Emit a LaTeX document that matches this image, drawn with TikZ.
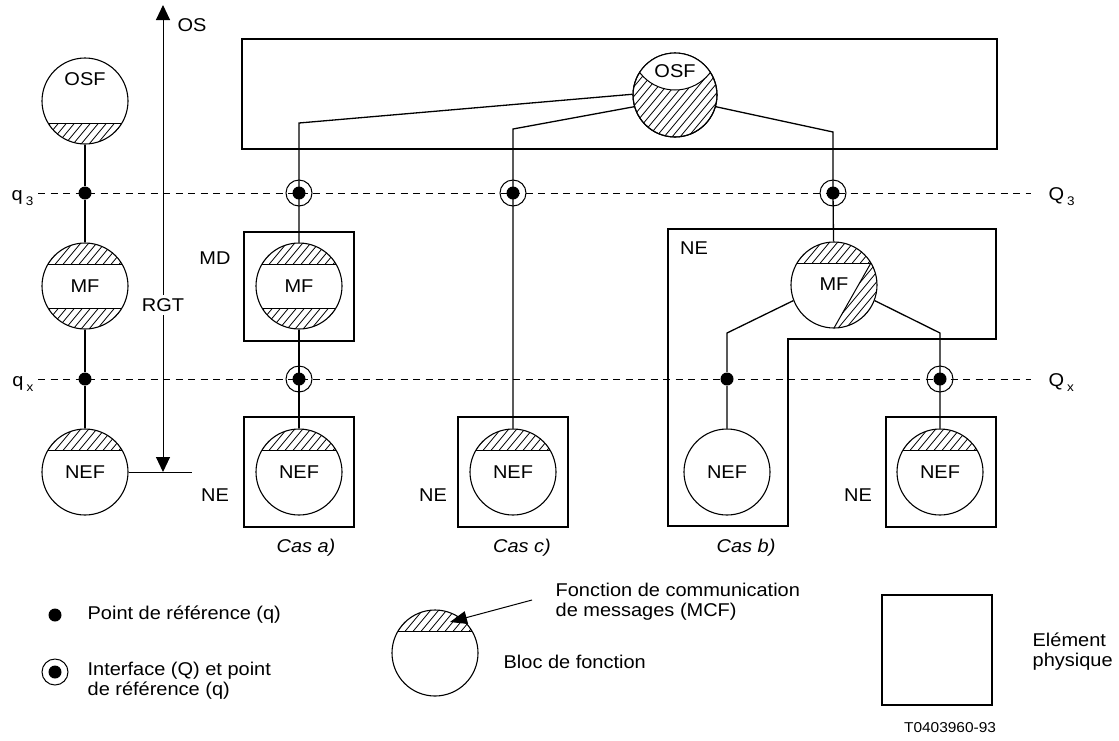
\documentclass[tikz,border=0pt]{standalone}
\usepackage{fontspec}
\setmainfont{Liberation Sans}[FakeStretch=1.08]
\usetikzlibrary{arrows.meta}
\newcommand\lowsub[1]{\kern3pt\raisebox{-0.32em}{\fontsize{12.5}{13}\selectfont #1}}
\newcommand\hatchlines[1]{\foreach \i in {-11,...,11}{\draw[hatchline] ([xshift=\i*8]#1.center) ++(-40,48) -- ++(80,-96);}}
\newcommand\hattop[1]{%
  \begin{scope}\clip (#1.center) circle[radius=43pt];
  \clip ([shift={(-50,-50)}]#1.center) rectangle ([shift={(50,-22)}]#1.center);
  \hatchlines{#1}\end{scope}
  \draw[thinline] ([shift={(-36.9,-22)}]#1.center) -- ([shift={(36.9,-22)}]#1.center);}
\newcommand\hatbot[1]{%
  \begin{scope}\clip (#1.center) circle[radius=43pt];
  \clip ([shift={(-50,22)}]#1.center) rectangle ([shift={(50,50)}]#1.center);
  \hatchlines{#1}\end{scope}
  \draw[thinline] ([shift={(-36.9,22)}]#1.center) -- ([shift={(36.9,22)}]#1.center);}
\begin{document}
\begin{tikzpicture}[x=1pt,y=-1pt,
  font=\fontsize{18.5}{20}\selectfont,
  line width=1.3pt,
  thinline/.style={line width=1pt},
  hatchline/.style={line width=0.8pt},
  fb/.style={circle,draw,line width=1.1pt,minimum size=86pt,inner sep=0pt},
  pbox/.style={rectangle,draw,minimum width=110pt,minimum height=110pt,inner sep=0pt},
  refdot/.style={circle,fill,minimum size=13pt,inner sep=0pt},
  iface/.style={circle,draw,line width=1pt,minimum size=26pt,inner sep=0pt,
     path picture={\fill (path picture bounding box.center) circle[radius=6.5pt];}},
  dashline/.style={line width=1pt,dash pattern=on 7pt off 5.5pt},
  txt/.style={inner sep=0pt}
]
\useasboundingbox (0,0) rectangle (1119,740);

% level labels
\node[txt,anchor=base east] (lq3) at (34,200) {q\lowsub{3}};
\node[txt,anchor=base west] (lQ3) at (1048,200) {Q\lowsub{3}};
\node[txt,anchor=base east] (lqx) at (34,386) {q\lowsub{x}};
\node[txt,anchor=base west] (lQx) at (1048,386) {Q\lowsub{x}};
\coordinate (d3l) at (38,193);  \coordinate (d3r) at (1031,193);
\coordinate (dxl) at (38,379);  \coordinate (dxr) at (1031,379);
\draw[dashline] (d3l) -- (d3r);
\draw[dashline] (dxl) -- (dxr);

% physical boxes
\node[pbox,minimum width=755pt] (ostop) at (619.5,94) {};
\node[pbox,minimum height=109pt] (mdbox) at (299,286.5) {};
\node[pbox] (neabox) at (299,472) {};
\node[pbox] (necbox) at (513,472) {};
\node[pbox] (nebbox2) at (941,472) {};
\draw (668,229) -- (996,229) -- (996,339) -- (788,339) -- (788,526) -- (668,526) -- cycle;

% box labels
\node[txt] (lmd) at (215,258) {MD};
\node[txt] (lnea) at (215,495) {NE};
\node[txt] (lnec) at (433,495) {NE};
\node[txt] (lneb) at (694,248) {NE};
\node[txt] (lneb2) at (858,495) {NE};

% function blocks
\node[fb] (osfL) at (85,101) {};
\node[txt] at (85,79) {OSF};
\node[fb] (mfL) at (85,286) {MF};
\node[fb] (nefL) at (85,472) {\raisebox{-5pt}{NEF}};
\node[fb,minimum size=84pt] (osf) at (675,95) {};
\node[fb] (mdmf) at (299,286) {MF};
\node[fb] (nefa) at (299,472) {\raisebox{-5pt}{NEF}};
\node[fb] (nefc) at (513,472) {\raisebox{-5pt}{NEF}};
\node[fb] (mfb) at (834,285) {\raisebox{2pt}{MF}};
\node[fb] (nefb1) at (727,472) {NEF};
\node[fb] (nefb2) at (940,472) {\raisebox{-5pt}{NEF}};

% hatching
\hatbot{osfL}
\hattop{mfL}\hatbot{mfL}
\hattop{nefL}
\hattop{mdmf}\hatbot{mdmf}
\hattop{nefa}
\hattop{nefc}
\hattop{nefb2}
\hattop{mfb}
\begin{scope}
  \clip (mfb.center) circle[radius=43pt];
  \clip ([shift={(36.9,-22)}]mfb.center) -- ([shift={(0,43)}]mfb.center) -- ([shift={(60,60)}]mfb.center) -- ([shift={(60,-22)}]mfb.center) -- cycle;
  \hatchlines{mfb}
\end{scope}
\draw[thinline] ([shift={(36.9,-22)}]mfb.center) -- ([shift={(0,43)}]mfb.center);
\begin{scope}
  \clip (osf.center) circle[radius=42pt];
  \hatchlines{osf}
  \fill[white] ([shift={(0,-49.3)}]osf.center) circle[radius=44.3pt];
  \draw[thinline] ([shift={(0,-49.3)}]osf.center) circle[radius=44.3pt];
\end{scope}
\draw[line width=1.1pt] (osf.center) circle[radius=42pt];
\node[txt] at (675,71) {OSF};

% reference points and interfaces
\node[refdot] (dq3) at (85,193) {};
\node[refdot] (dqx) at (85,379) {};
\node[refdot] (dbx) at (727,379) {};
\node[iface] (ia1) at (299,193) {};
\node[iface] (iax) at (299,379) {};
\node[iface] (ic1) at (513,193) {};
\node[iface] (ib1) at (833,193) {};
\node[iface] (ibx) at (940,379) {};

% connectors
\coordinate (ca) at (299,123);
\coordinate (cc) at (513,129);
\coordinate (cb) at (833,132);
\coordinate (cbl) at (727,333);
\coordinate (cbr) at (940,333);
\draw (osfL) -- (dq3) -- (mfL) -- (dqx) -- (nefL);
\draw (osf.179) -- (ca) -- (ia1.center) -- (mdmf);
\draw (mdmf) -- (iax.center) -- (nefa);
\draw (osf.196) -- (cc) -- (ic1.center) -- (nefc);
\draw (osf.344) -- (cb) -- (ib1.center) -- (mfb);
\draw (mfb.201) -- (cbl) -- (dbx) -- (nefb1);
\draw (mfb.339) -- (cbr) -- (ibx.center) -- (nefb2);

% RGT span arrow
\coordinate (rgtbot) at (163,472);
\coordinate (rgttop) at (163,5);
\coordinate (rgtend) at (192,472);
\draw[thinline] (nefL.east) -- (rgtend);
\draw[thinline,{Triangle[length=15pt,width=14pt]}-{Triangle[length=15pt,width=14pt]}] (rgtbot) -- (rgttop);
\node[txt,fill=white,inner ysep=3pt] (lrgt) at (163,305) {RGT};
\node[txt] (los) at (192,25) {OS};

% case labels
\node[txt,font=\fontsize{18.5}{20}\selectfont\itshape] (casa) at (306,548) {Cas a)};
\node[txt,font=\fontsize{18.5}{20}\selectfont\itshape] (casc) at (522,548) {Cas c)};
\node[txt,font=\fontsize{18.5}{20}\selectfont\itshape] (casb) at (746,548) {Cas b)};

% legend
\node[refdot] (legdot) at (55,615) {};
\node[txt,anchor=west] (legdott) at (87,615) {Point de référence (q)};
\node[iface] (legif) at (55,672) {};
\node[txt,anchor=west,align=left] (legift) at (87,681) {Interface (Q) et point\\de référence (q)};
\node[fb] (legfb) at (435,653) {};
\hattop{legfb}
\node[txt,anchor=west,align=left] (legmcf) at (555,602) {Fonction de communication\\de messages (MCF)};
\coordinate (mcfstart) at (532,600);
\coordinate (mcftip) at (450,622);
\draw[thinline,-{Triangle[length=17pt,width=13pt]}] (mcfstart) -- (mcftip);
\node[txt,anchor=west] (legfbt) at (503,662) {Bloc de fonction};
\node[pbox] (legbox) at (937,650) {};
\node[txt,anchor=west,align=left] (legboxt) at (1032,652) {Elément\\physique};
\node[txt,font=\fontsize{14.3}{16}\selectfont] (fig) at (950,728) {T0403960-93};
\end{tikzpicture}
\end{document}
